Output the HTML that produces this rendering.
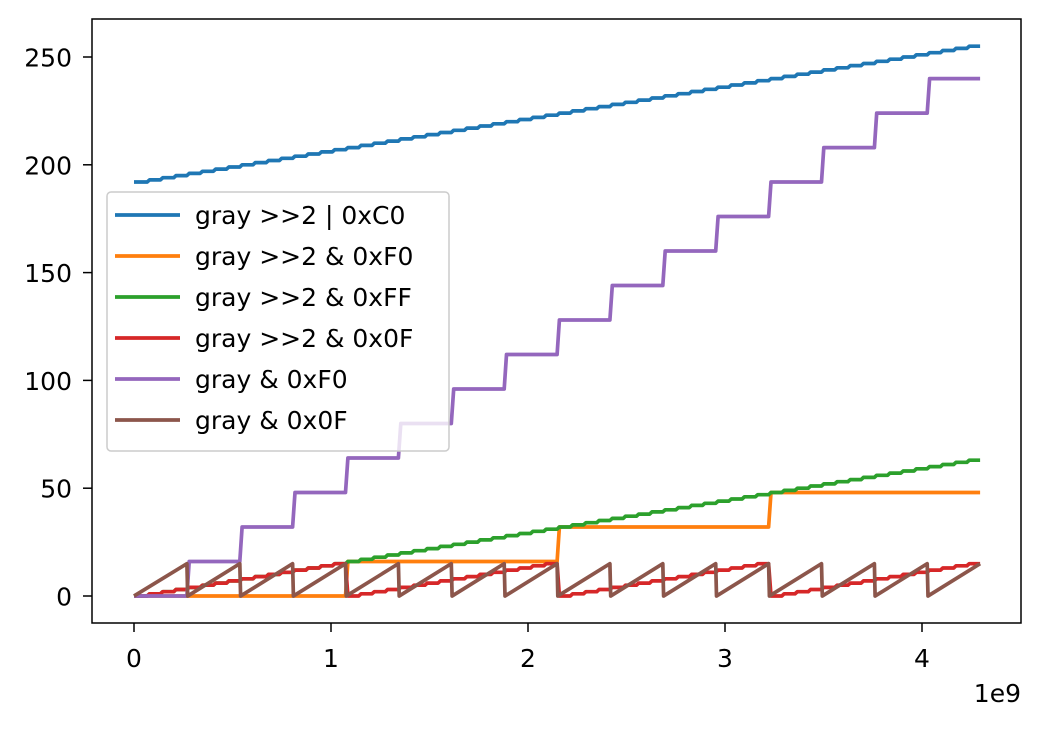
<!DOCTYPE html>
<html><head><meta charset="utf-8"><style>
body{margin:0;background:#fff;}
svg text{font-family:"DejaVu Sans","Liberation Sans",sans-serif;font-size:25px;fill:#000;}
</style></head><body>
<svg id="chart" width="1042" height="727" xmlns="http://www.w3.org/2000/svg">
<rect x="0" y="0" width="1042" height="727" fill="#fff"/>
<g id="plot"></g>
<rect x="92" y="19" width="929" height="604" fill="none" stroke="#000" stroke-width="1.5"/>
<g id="ticks"></g>
<text x="1021" y="702" text-anchor="end">1e9</text>
<g id="legend"></g>
</svg>
<script>
const xTicks=[0,1,2,3,4];
const yTicks=[0,50,100,150,200,250];
const xMax=4.295; // in 1e9
const seriesNames=["gray >>2 | 0xC0","gray >>2 & 0xF0","gray >>2 & 0xFF","gray >>2 & 0x0F","gray & 0xF0","gray & 0x0F"];
const colors=["#1f77b4","#ff7f0e","#2ca02c","#d62728","#9467bd","#8c564b"];
const blueVals=[192,193,194,195,196,197,198,199,200,201,202,203,204,205,206,207,208,209,210,211,212,213,214,215,216,217,218,219,220,221,222,223,224,225,226,227,228,229,230,231,232,233,234,235,236,237,238,239,240,241,242,243,244,245,246,247,248,249,250,251,252,253,254,255];
const orangeVals=[0,16,32,48];
const greenVals=[0,1,2,3,4,5,6,7,8,9,10,11,12,13,14,15,16,17,18,19,20,21,22,23,24,25,26,27,28,29,30,31,32,33,34,35,36,37,38,39,40,41,42,43,44,45,46,47,48,49,50,51,52,53,54,55,56,57,58,59,60,61,62,63];
const redVals=[0,1,2,3,4,5,6,7,8,9,10,11,12,13,14,15,0,1,2,3,4,5,6,7,8,9,10,11,12,13,14,15,0,1,2,3,4,5,6,7,8,9,10,11,12,13,14,15,0,1,2,3,4,5,6,7,8,9,10,11,12,13,14,15];
const purpleVals=[0,16,32,48,64,80,96,112,128,144,160,176,192,208,224,240];
const brownLow=[0,0,0,0,0,0,0,0,0,0,0,0,0,0,0,0];
const brownHigh=[15,15,15,15,15,15,15,15,15,15,15,15,15,15,15,15];

const X=v=>134+v*197;
const Y=v=>596-v*2.156;
const NS="http://www.w3.org/2000/svg";
const plot=document.getElementById('plot');
function mk(t,a,p){const e=document.createElementNS(NS,t);for(const k in a)e.setAttribute(k,a[k]);p.appendChild(e);return e;}
function stepPts(vals){const n=vals.length,w=xMax/n,eps=Math.min(w*0.3,0.012);let p=[];
 vals.forEach((v,i)=>{const x0=i*w,x1=(i+1)*w;p.push([X(i?x0+eps:x0),Y(v)]);p.push([X(i<n-1?x1:xMax),Y(v)]);});return p;}
function line(pts,c,name){const el=mk('polyline',{points:pts.map(p=>p[0].toFixed(1)+','+p[1].toFixed(1)).join(' '),fill:'none',stroke:c,'stroke-width':3.7,'stroke-linejoin':'round'},plot);
 
 }
line(stepPts(blueVals),colors[0],'series-blue');
line(stepPts(orangeVals),colors[1],'series-orange');
line(stepPts(greenVals),colors[2],'series-green');
line(stepPts(redVals),colors[3],'series-red');
line(stepPts(purpleVals),colors[4],'series-purple');
(function(){const n=brownLow.length,w=xMax/n,eps=0.004;let p=[];
 brownLow.forEach((lo,i)=>{p.push([X(i?i*w+eps:0),Y(lo)]);p.push([X((i+1)*w),Y(brownHigh[i])]);});
 line(p,colors[5],'series-brown');})();

const tg=document.getElementById('ticks');
xTicks.forEach(t=>{const l=mk('line',{x1:X(t),x2:X(t),y1:623,y2:632,stroke:'#000','stroke-width':1.5},tg);
 
 const tx=mk('text',{x:X(t),y:667,'text-anchor':'middle'},tg);tx.textContent=t;
 });
yTicks.forEach(t=>{const l=mk('line',{x1:83,x2:92,y1:Y(t),y2:Y(t),stroke:'#000','stroke-width':1.5},tg);
 
 const tx=mk('text',{x:72,y:Y(t)+9.5,'text-anchor':'end'},tg);tx.textContent=t;
 });

const lg=document.getElementById('legend');
const bx=mk('rect',{x:107,y:192,width:342,height:259,rx:4,fill:'#fff','fill-opacity':0.8,stroke:'#ccc','stroke-width':1.5},lg);

seriesNames.forEach((s,i)=>{const y=215+i*41;
 const l=mk('line',{x1:115,x2:180,y1:y,y2:y,stroke:colors[i],'stroke-width':3.7},lg);
 
 const t=mk('text',{x:195,y:y+9},lg);t.textContent=s;
 });
</script>
</body></html>
